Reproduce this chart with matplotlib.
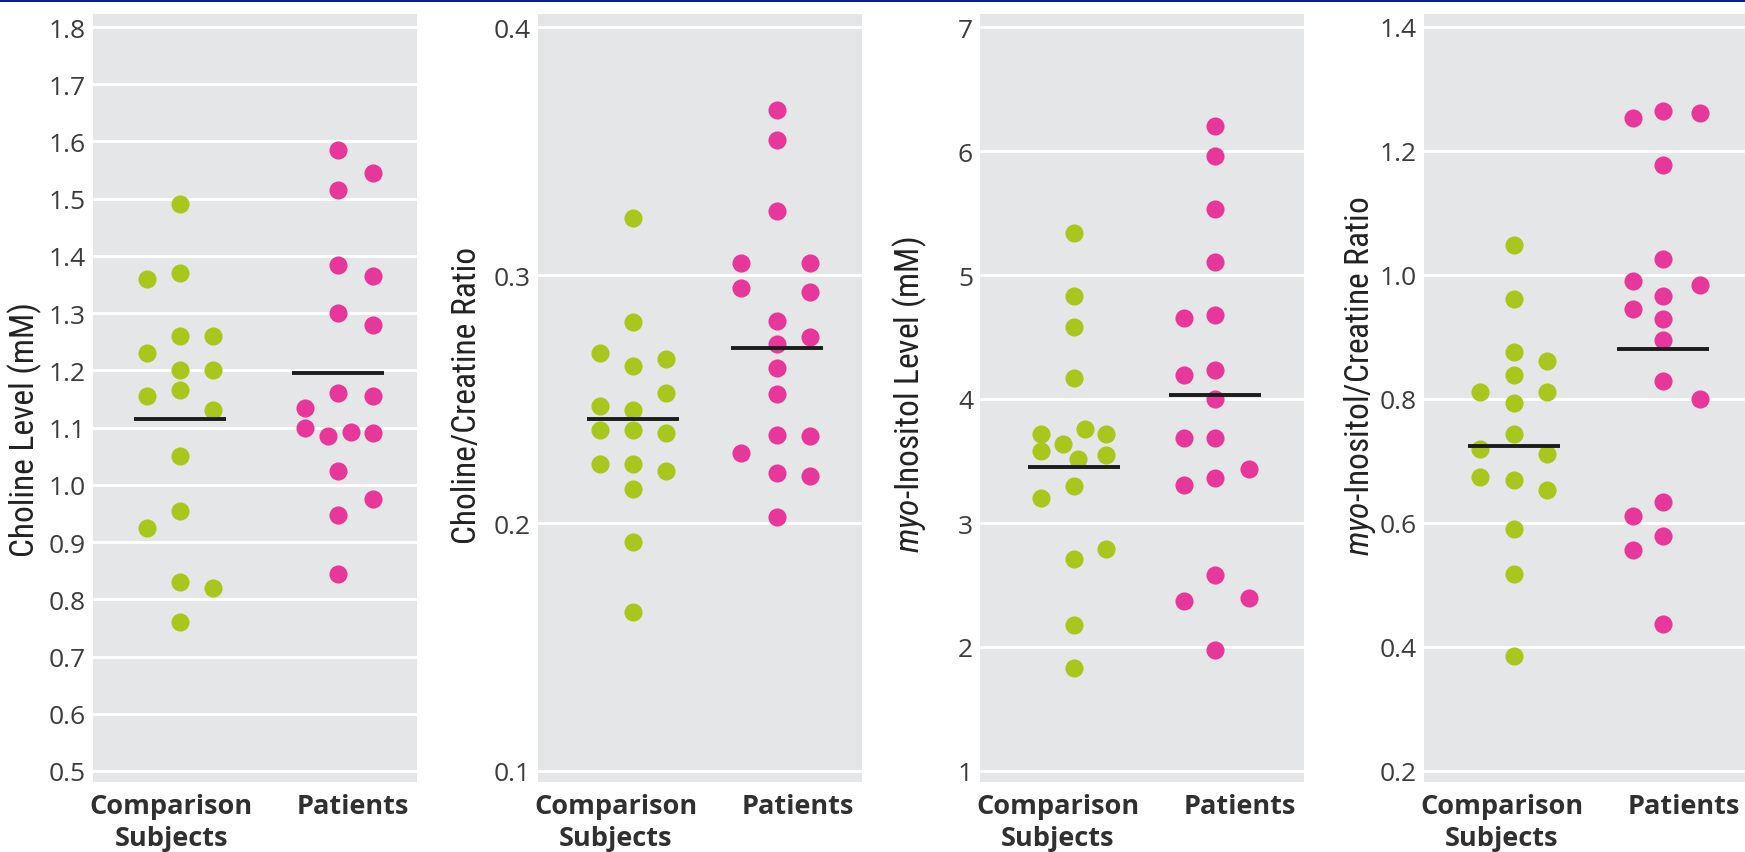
import matplotlib
matplotlib.use("Agg")
import matplotlib.pyplot as plt
from matplotlib import font_manager as fm
from matplotlib.patches import Rectangle

# ---------------- data ----------------
groups = ["Comparison\nSubjects", "Patients"]

# Panel 1: Choline level (mM)
cho_comp = [1.49, 1.37, 1.26, 1.20, 1.165, 1.05, 0.955, 0.83, 0.76,
            1.36, 1.23, 1.155, 0.925,
            1.26, 1.20, 1.13, 0.82]
cho_comp_slot = [0, 0, 0, 0, 0, 0, 0, 0, 0,
                 -1, -1, -1, -1,
                 1, 1, 1, 1]
cho_pat = [1.585, 1.515, 1.385, 1.30, 1.16, 1.025, 0.948, 0.845,
           1.545, 1.365, 1.28, 1.155, 1.09, 0.975,
           1.135, 1.10, 1.085, 1.093]
cho_pat_slot = [0, 0, 0, 0, 0, 0, 0, 0,
                1.05, 1.05, 1.05, 1.05, 1.05, 1.05,
                -1, -1, -0.31, 0.38]
cho_means = [1.115, 1.195]
cho_ticks = [0.5, 0.6, 0.7, 0.8, 0.9, 1.0, 1.1, 1.2, 1.3, 1.4, 1.5, 1.6, 1.7, 1.8]
cho_ticklabels = ["0.5", "0.6", "0.7", "0.8", "0.9", "1.0", "1.1", "1.2", "1.3",
                  "1.4", "1.5", "1.6", "1.7", "1.8"]

# Panel 2: Choline/Creatine ratio
chocr_comp = [0.3228, 0.281, 0.2634, 0.2454, 0.2377, 0.2239, 0.2136, 0.1923, 0.1643,
              0.2684, 0.2471, 0.2377, 0.2239,
              0.2662, 0.2526, 0.2362, 0.221]
chocr_comp_slot = [0, 0, 0, 0, 0, 0, 0, 0, 0,
                   -1, -1, -1, -1,
                   1, 1, 1, 1]
chocr_pat = [0.3664, 0.3544, 0.3259, 0.2816, 0.2722, 0.2625, 0.252, 0.2355, 0.2202, 0.2026,
             0.305, 0.2947, 0.2283,
             0.305, 0.2932, 0.275, 0.2349, 0.2191]
chocr_pat_slot = [0, 0, 0, 0, 0, 0, 0, 0, 0, 0,
                  -1.07, -1.07, -1.07,
                  1, 1, 1, 1, 1]
chocr_means = [0.2421, 0.2706]
chocr_ticks = [0.1, 0.2, 0.3, 0.4]
chocr_ticklabels = ["0.1", "0.2", "0.3", "0.4"]

# Panel 3: myo-Inositol level (mM)
mi_comp = [5.339, 4.828, 4.577, 4.172, 3.762, 3.52, 3.30, 2.709, 2.181, 1.828,
           3.718, 3.577, 3.634, 3.203,
           3.718, 3.546, 2.793]
mi_comp_slot = [0, 0, 0, 0, 0.32, 0.1, 0, 0, 0, 0,
                -1, -1, -0.35, -1,
                0.95, 0.95, 0.95]
mi_pat = [6.198, 5.956, 5.529, 5.106, 4.674, 4.233, 3.996, 3.687, 3.366, 2.577, 1.978,
          4.656, 4.194, 3.687, 3.304, 2.374,
          3.436, 2.396]
mi_pat_slot = [0, 0, 0, 0, 0, 0, 0, 0, 0, 0, 0,
               -0.93, -0.93, -0.93, -0.93, -0.93,
               1.02, 1.02]
mi_means = [3.454, 4.031]
mi_ticks = [1, 2, 3, 4, 5, 6, 7]
mi_ticklabels = ["1", "2", "3", "4", "5", "6", "7"]

# Panel 4: myo-Inositol/Creatine ratio
micr_comp = [1.048, 0.962, 0.876, 0.838, 0.794, 0.743, 0.669, 0.590, 0.518, 0.386,
             0.811, 0.719, 0.675,
             0.861, 0.811, 0.712, 0.654]
micr_comp_slot = [0, 0, 0, 0, 0, 0, 0, 0, 0, 0,
                  -1.02, -1.02, -1.02,
                  1, 1, 1, 1]
micr_pat = [1.264, 1.177, 1.026, 0.966, 0.929, 0.895, 0.829, 0.634, 0.579, 0.437,
            1.253, 0.991, 0.945, 0.612, 0.556,
            1.262, 0.984, 0.8]
micr_pat_slot = [0, 0, 0, 0, 0, 0, 0, 0, 0, 0,
                 -0.92, -0.92, -0.92, -0.92, -0.92,
                 1.12, 1.12, 1.12]
micr_means = [0.724, 0.881]
micr_ticks = [0.2, 0.4, 0.6, 0.8, 1.0, 1.2, 1.4]
micr_ticklabels = ["0.2", "0.4", "0.6", "0.8", "1.0", "1.2", "1.4"]

ylabels = ["Choline Level (mM)",
           "Choline/Creatine Ratio",
           r"$\mathit{myo}$-Inositol Level (mM)",
           r"$\mathit{myo}$-Inositol/Creatine Ratio"]

# ---------------- styling ----------------
def first_font(names):
    for n in names:
        try:
            fm.findfont(fm.FontProperties(family=n), fallback_to_default=False)
            return n
        except Exception:
            continue
    return "DejaVu Sans"

tick_font = first_font(["Open Sans", "Lato", "DejaVu Sans"])
label_font = first_font(["Liberation Sans Narrow", "Roboto Condensed", "Liberation Sans"])

plt.rcParams["mathtext.fontset"] = "custom"
plt.rcParams["mathtext.it"] = label_font + ":italic"
plt.rcParams["mathtext.rm"] = label_font

GREEN = "#A8C71C"
PINK = "#E8379B"
BG = "#E5E6E7"

W, H = 1745, 853
fig = plt.figure(figsize=(W / 100, H / 100), dpi=100)
fig.patch.set_facecolor("white")

panels = [
    (cho_comp, cho_comp_slot, cho_pat, cho_pat_slot, cho_means, cho_ticks, cho_ticklabels),
    (chocr_comp, chocr_comp_slot, chocr_pat, chocr_pat_slot, chocr_means, chocr_ticks, chocr_ticklabels),
    (mi_comp, mi_comp_slot, mi_pat, mi_pat_slot, mi_means, mi_ticks, mi_ticklabels),
    (micr_comp, micr_comp_slot, micr_pat, micr_pat_slot, micr_means, micr_ticks, micr_ticklabels),
]

# layout in pixels
ax_left = [93, 538, 980, 1424]
ax_w = 324
ax_top, ax_bot = 15, 783
comp_px = [87, 94.7, 94.3, 90]       # group centre, px from axes left
pat_px = [245, 238.7, 235, 239.3]
slot_px = 33.0
mean_half_px = 46.0
label_x_px = [-68, -71, -70, -64]
label_y_frac = [0.46, 0.505, 0.505, 0.53]

for i, (cv, cs, pv, ps, means, ticks, tlabels) in enumerate(panels):
    ax = fig.add_axes([ax_left[i] / W, 1 - ax_bot / H, ax_w / W, (ax_bot - ax_top) / H])
    ax.set_facecolor(BG)
    for sp in ax.spines.values():
        sp.set_visible(False)
    s = pat_px[i] - comp_px[i]
    ax.set_xlim(-comp_px[i] / s, (ax_w - comp_px[i]) / s)
    R = ticks[-1] - ticks[0]
    ax.set_ylim(ticks[0] - 11 / 744 * R, ticks[-1] + 13 / 744 * R)
    ax.set_yticks(ticks)
    ax.set_yticklabels(tlabels, fontsize=19, color="#3c3c3c", family=tick_font)
    ax.grid(axis="y", color="white", linewidth=2.0, zorder=1)
    ax.set_axisbelow(True)
    ax.tick_params(axis="both", length=0)
    ax.tick_params(axis="y", pad=5)
    ax.tick_params(axis="x", pad=8)

    slot = slot_px / s
    xc = [0 + v * slot for v in cs]
    xp = [1 + v * slot for v in ps]
    ax.scatter(xc, cv, s=170, color=GREEN, linewidths=0, zorder=3)
    ax.scatter(xp, pv, s=170, color=PINK, linewidths=0, zorder=3)
    h = mean_half_px / s
    for g, m in enumerate(means):
        ax.plot([g - h, g + h], [m, m], color="#1c1c1c", linewidth=2.8,
                solid_capstyle="butt", zorder=4)

    xl0 = -comp_px[i] / s
    ax.set_xticks([xl0 + 78 / s, xl0 + (ax_w - 64) / s])
    ax.set_xticklabels(groups, fontsize=19.5, fontweight="bold", color="#303030",
                       family=tick_font, linespacing=1.3)

    ax.set_ylabel(ylabels[i], fontsize=24, family=label_font, color="#222222",
                  va="center")
    ax.yaxis.set_label_coords(label_x_px[i] / ax_w, label_y_frac[i])

# thin blue rule along the top edge
fig.add_artist(Rectangle((0, 1 - 3 / H), 1, 3 / H, transform=fig.transFigure,
                         facecolor="#0B1E8E", edgecolor="none"))

fig.savefig("out.png", dpi=100, facecolor="white")
